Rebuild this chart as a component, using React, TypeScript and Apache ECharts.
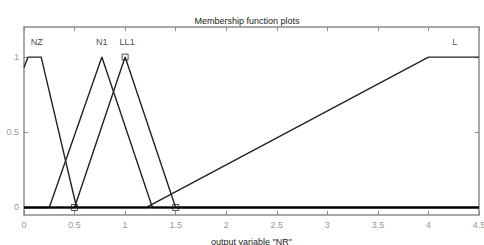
import React, { useEffect, useRef } from "react";
import * as echarts from "echarts";

const xTicks = [0, 0.5, 1, 1.5, 2, 2.5, 3, 3.5, 4, 4.5];
const yTicks = [0, 0.5, 1];
const nzPts: [number, number][] = [[0, 0.93], [0.04, 1], [0.17, 1], [0.52, 0], [4.5, 0]];
const n1Pts: [number, number][] = [[0, 0], [0.25, 0], [0.77, 1], [1.27, 0], [4.5, 0]];
const ll1Pts: [number, number][] = [[0, 0], [0.5, 0], [1, 1], [1.5, 0], [4.5, 0]];
const lPts: [number, number][] = [[0, 0], [1.21, 0], [4, 1], [4.5, 1]];
const markerPts: [number, number][] = [[0.5, 0], [1, 1], [1.5, 0]];
const mfNames = ["NZ", "N1", "LL1", "L"];
const mfLabelX = [0.125, 0.77, 1.02, 4.26];
const mfLabelY = 1.1;

const FONT = "Liberation Sans, Arial, sans-serif";

export default function App() {
  const ref = useRef<HTMLDivElement>(null);
  useEffect(() => {
    if (!ref.current) return;
    const chart = echarts.init(ref.current, undefined, { renderer: "svg" });
    const axisGray = "#8c8c8c";
    const lineStyle = { color: "#222", width: 1.4 };
    const mkLine = (data: [number, number][]) => ({
      type: "line",
      data,
      showSymbol: false,
      lineStyle,
      silent: true,
      z: 3,
    });
    chart.setOption({
      animation: false,
      textStyle: { fontFamily: FONT },
      title: {
        text: "Membership function plots",
        left: 242,
        textAlign: "center",
        top: 11,
        textStyle: { fontSize: 9, fontWeight: "normal", color: "#222", fontFamily: FONT },
      },
      grid: { left: 24, right: 5, top: 27, bottom: 30, containLabel: false, outerBoundsMode: "none" },
      xAxis: [
        {
          type: "value",
          min: 0,
          max: 4.5,
          interval: 0.5,
          position: "bottom",
          name: 'output variable "NR"',
          nameLocation: "middle",
          nameGap: 22,
          nameTextStyle: { fontSize: 9, color: "#222", fontFamily: FONT },
          axisLine: { show: true, onZero: false, lineStyle: { color: axisGray, width: 1.5 } },
          axisTick: { show: true, inside: true, length: 4, lineStyle: { color: axisGray } },
          axisLabel: {
            color: "#999",
            fontSize: 9,
            margin: 5,
            fontFamily: FONT,
            formatter: (v: number) => (xTicks.includes(v) ? String(v) : ""),
          },
          splitLine: { show: false },
        },
        {
          type: "value",
          min: 0,
          max: 4.5,
          interval: 0.5,
          position: "top",
          axisLine: { show: true, onZero: false, lineStyle: { color: axisGray, width: 1.5 } },
          axisTick: { show: true, inside: true, length: 4, lineStyle: { color: axisGray } },
          axisLabel: { show: false },
          splitLine: { show: false },
        },
      ],
      yAxis: [
        {
          type: "value",
          min: -0.05,
          max: 1.2,
          position: "left",
          axisLine: { show: true, onZero: false, lineStyle: { color: axisGray, width: 1.5 } },
          axisTick: { show: true, inside: true, length: 4, customValues: yTicks, lineStyle: { color: axisGray } },
          axisLabel: { color: "#999", fontSize: 9, margin: 5, customValues: yTicks, fontFamily: FONT },
          splitLine: { show: false },
        },
        {
          type: "value",
          min: -0.05,
          max: 1.2,
          position: "right",
          axisLine: { show: true, onZero: false, lineStyle: { color: axisGray, width: 1.5 } },
          axisTick: { show: true, inside: true, length: 4, customValues: yTicks, lineStyle: { color: axisGray } },
          axisLabel: { show: false },
          splitLine: { show: false },
        },
      ],
      series: [
        mkLine(nzPts),
        mkLine(n1Pts),
        mkLine(ll1Pts),
        mkLine(lPts),
        {
          type: "line",
          data: [[0, 0], [4.5, 0]],
          showSymbol: false,
          lineStyle: { color: "#000", width: 2 },
          silent: true,
          z: 4,
        },
        {
          type: "scatter",
          data: markerPts,
          symbol: "rect",
          symbolSize: 6,
          itemStyle: { color: "rgba(255,255,255,0)", borderColor: "#222", borderWidth: 1 },
          z: 5,
        },
        {
          type: "scatter",
          data: mfNames.map((n, i) => ({ value: [mfLabelX[i], mfLabelY], name: n })),
          symbolSize: 0,
          itemStyle: { color: "#111" },
          label: {
            show: true,
            position: "inside",
            formatter: (p: any) => p.name,
            color: "#111",
            fontSize: 9,
            fontFamily: FONT,
          },
          z: 6,
        },
      ],
    });
    return () => chart.dispose();
  }, []);
  return <div ref={ref} style={{ width: 484, height: 245, position: "absolute", left: 0, top: 0 }} />;
}
